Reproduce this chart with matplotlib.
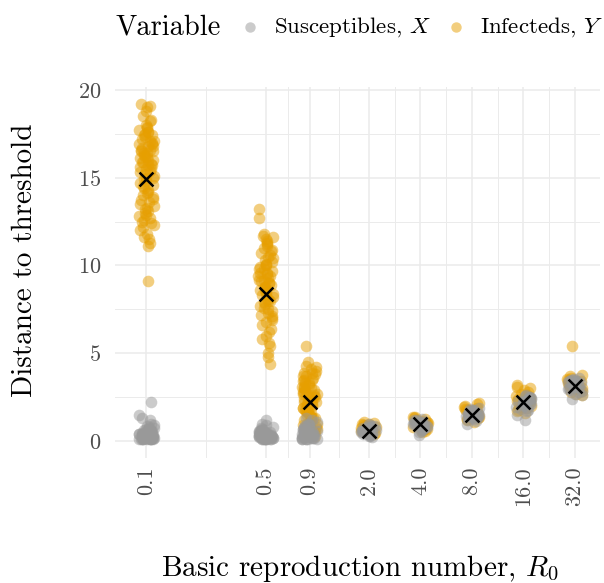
import numpy as np
import matplotlib
matplotlib.use('Agg')
import matplotlib.pyplot as plt
from matplotlib.lines import Line2D
from matplotlib.ticker import FixedLocator, NullFormatter

# 字体：Computer Modern 风格
plt.rcParams['font.family'] = 'serif'
plt.rcParams['font.serif'] = ['cmr10', 'DejaVu Serif']
plt.rcParams['mathtext.fontset'] = 'cm'
plt.rcParams['axes.formatter.use_mathtext'] = True

# 数据
r0_values = [0.1, 0.5, 0.9, 2.0, 4.0, 8.0, 16.0, 32.0]
r0_labels = ['0.1', '0.5', '0.9', '2.0', '4.0', '8.0', '16.0', '32.0']

infecteds = [
    [19.2, 19.1, 19.0, 18.8, 18.5, 18.3, 18.2, 18.0, 17.9, 17.8, 17.7, 17.6, 17.6, 17.5,
     17.4, 17.4, 17.3, 17.2, 17.1, 17.1, 17.0, 16.9, 16.9, 16.8, 16.8, 16.7, 16.6, 16.6,
     16.5, 16.5, 16.4, 16.4, 16.3, 16.2, 16.2, 16.1, 16.0, 16.0, 15.9, 15.9, 15.8, 15.7,
     15.7, 15.6, 15.5, 15.5, 15.4, 15.3, 15.2, 15.1, 15.0, 15.0, 14.9, 14.8, 14.7, 14.6,
     14.5, 14.4, 14.3, 14.2, 14.1, 14.0, 13.9, 13.8, 13.7, 13.6, 13.5, 13.4, 13.3, 13.2,
     13.1, 13.0, 12.9, 12.8, 12.7, 12.6, 12.5, 12.4, 12.3, 12.2, 12.0, 11.8, 11.6, 11.5,
     11.3, 11.1, 9.1],
    [13.2, 12.7, 11.8, 11.7, 11.6, 11.5, 11.4, 11.3, 11.2, 11.1, 11.0, 10.9, 10.8, 10.7,
     10.6, 10.5, 10.4, 10.3, 10.2, 10.1, 10.0, 10.0, 9.9, 9.8, 9.8, 9.7, 9.6, 9.6, 9.5,
     9.4, 9.4, 9.3, 9.2, 9.2, 9.1, 9.0, 9.0, 8.9, 8.8, 8.8, 8.7, 8.6, 8.6, 8.5, 8.4,
     8.4, 8.3, 8.2, 8.1, 8.0, 8.0, 7.9, 7.8, 7.7, 7.6, 7.5, 7.4, 7.3, 7.2, 7.1, 7.0,
     6.9, 6.8, 6.6, 6.4, 6.2, 6.0, 5.8, 5.6, 5.4, 5.0, 4.8, 4.4],
    [5.4, 4.5, 4.3, 4.2, 4.1, 4.0, 3.9, 3.9, 3.8, 3.7, 3.7, 3.6, 3.5, 3.5, 3.4, 3.3,
     3.3, 3.2, 3.1, 3.1, 3.0, 3.0, 2.9, 2.9, 2.8, 2.8, 2.7, 2.7, 2.6, 2.6, 2.5, 2.5,
     2.4, 2.4, 2.3, 2.3, 2.2, 2.2, 2.1, 2.1, 2.0, 2.0, 1.9, 1.9, 1.8, 1.8, 1.7, 1.7,
     1.6, 1.6, 1.5, 1.5, 1.4, 1.4, 1.3, 1.3, 1.2, 1.2, 1.1, 1.0, 1.0, 0.9, 0.8, 0.7,
     0.6, 0.5, 0.4, 0.3],
    [1.1, 1.05, 1.0, 0.95, 0.9, 0.85, 0.8, 0.8, 0.75, 0.7, 0.7, 0.65, 0.65, 0.6, 0.6,
     0.55, 0.55, 0.5, 0.5, 0.45, 0.4],
    [1.4, 1.35, 1.3, 1.25, 1.2, 1.2, 1.15, 1.1, 1.1, 1.05, 1.0, 1.0, 0.95, 0.95, 0.9,
     0.9, 0.85, 0.85, 0.8, 0.75, 0.7, 0.65, 0.6, 0.5],
    [2.15, 2.1, 2.0, 1.95, 1.9, 1.85, 1.8, 1.75, 1.7, 1.7, 1.65, 1.6, 1.6, 1.55, 1.55,
     1.5, 1.5, 1.45, 1.4, 1.4, 1.35, 1.3, 1.25, 1.2, 1.1],
    [3.2, 3.1, 3.0, 2.9, 2.8, 2.7, 2.6, 2.55, 2.5, 2.45, 2.4, 2.35, 2.3, 2.25, 2.2, 2.2,
     2.15, 2.1, 2.05, 2.0, 1.95, 1.9, 1.8, 1.7, 1.6],
    [5.4, 3.75, 3.7, 3.6, 3.55, 3.5, 3.45, 3.4, 3.35, 3.3, 3.3, 3.25, 3.2, 3.2, 3.15,
     3.1, 3.05, 3.0, 2.95, 2.9, 2.85, 2.8, 2.7, 2.6],
]

susceptibles = [
    [2.2, 1.5, 1.3, 1.2, 1.0, 0.9, 0.85, 0.8, 0.75, 0.7, 0.7, 0.65, 0.6, 0.6, 0.55,
     0.55, 0.5, 0.5, 0.5, 0.45, 0.45, 0.4, 0.4, 0.4, 0.38, 0.35, 0.35, 0.32, 0.3, 0.3,
     0.3, 0.28, 0.28, 0.25, 0.25, 0.25, 0.22, 0.22, 0.2, 0.2, 0.2, 0.2, 0.18, 0.18,
     0.18, 0.15, 0.15, 0.15, 0.15, 0.12, 0.12, 0.12, 0.1, 0.1, 0.1, 0.1],
    [1.2, 1.0, 0.9, 0.8, 0.75, 0.7, 0.65, 0.6, 0.6, 0.55, 0.55, 0.5, 0.5, 0.45, 0.45,
     0.4, 0.4, 0.4, 0.38, 0.35, 0.35, 0.32, 0.3, 0.3, 0.3, 0.28, 0.25, 0.25, 0.25,
     0.22, 0.22, 0.2, 0.2, 0.2, 0.18, 0.18, 0.15, 0.15, 0.15, 0.12, 0.12, 0.1, 0.1,
     0.1, 0.1],
    [1.3, 1.2, 1.1, 1.0, 0.95, 0.9, 0.85, 0.8, 0.75, 0.7, 0.7, 0.65, 0.6, 0.6, 0.55,
     0.55, 0.5, 0.5, 0.45, 0.45, 0.4, 0.4, 0.35, 0.35, 0.3, 0.3, 0.3, 0.25, 0.25, 0.22,
     0.2, 0.2, 0.2, 0.18, 0.15, 0.15, 0.12, 0.12, 0.1, 0.1],
    [0.95, 0.9, 0.85, 0.85, 0.8, 0.8, 0.75, 0.75, 0.7, 0.7, 0.65, 0.65, 0.6, 0.6, 0.6,
     0.55, 0.55, 0.5, 0.5, 0.5, 0.45, 0.45, 0.4, 0.4, 0.35, 0.35, 0.3, 0.3, 0.25],
    [1.25, 1.2, 1.2, 1.15, 1.1, 1.1, 1.05, 1.05, 1.0, 1.0, 1.0, 0.95, 0.95, 0.9, 0.9,
     0.85, 0.85, 0.8, 0.8, 0.75, 0.7, 0.65, 0.6, 0.5, 0.35],
    [1.9, 1.85, 1.8, 1.75, 1.7, 1.7, 1.65, 1.65, 1.6, 1.6, 1.55, 1.55, 1.5, 1.5, 1.5,
     1.45, 1.45, 1.4, 1.4, 1.35, 1.3, 1.25, 1.2, 1.15, 1.0],
    [2.6, 2.55, 2.5, 2.5, 2.45, 2.4, 2.4, 2.35, 2.3, 2.3, 2.25, 2.2, 2.2, 2.15, 2.1,
     2.1, 2.05, 2.0, 1.95, 1.9, 1.85, 1.8, 1.7, 1.5, 1.2],
    [3.6, 3.55, 3.5, 3.5, 3.45, 3.4, 3.4, 3.35, 3.3, 3.3, 3.25, 3.2, 3.2, 3.15, 3.1,
     3.1, 3.05, 3.0, 2.95, 2.9, 2.85, 2.8, 2.7, 2.6, 2.4],
]

# 感染者均值（× 标记）
infected_means = [14.95, 8.4, 2.2, 0.6, 0.95, 1.5, 2.2, 3.15]

orange = '#E69F00'
grey = '#999999'

fig = plt.figure(figsize=(6.04, 5.83), dpi=100)
ax = fig.add_axes([115 / 604, 125 / 583, 485 / 604, 371 / 583])

def jitter_x(x0, n, seed):
    # 确定性抖动（对数坐标下，哈希序列打乱）
    i = np.arange(n)
    k = (np.sin(i * 12.9898 + seed * 78.233) * 43758.5453) % 1.0
    return x0 * 2.0 ** ((k - 0.5) * 2 * 0.15)

for g, x0 in enumerate(r0_values):
    yi = infecteds[g]
    ax.scatter(jitter_x(x0, len(yi), g + 1), yi, s=70, color=orange, alpha=0.5,
               linewidths=0, zorder=2)
for g, x0 in enumerate(r0_values):
    ys = susceptibles[g]
    ax.scatter(jitter_x(x0, len(ys), g + 11), ys, s=70, color=grey, alpha=0.5,
               linewidths=0, zorder=3)

ax.scatter(r0_values, infected_means, marker='x', s=100, color='black',
           linewidths=1.8, zorder=4)

ax.set_xscale('log', base=2)
ax.set_xlim(2 ** -3.93, 2 ** 5.49)
ax.set_ylim(-0.96, 20.16)

ax.xaxis.set_major_locator(FixedLocator(r0_values))
ax.set_xticklabels(r0_labels, rotation=90)
minor_x = [np.sqrt(a * b) for a, b in zip(r0_values[:-1], r0_values[1:])]
ax.xaxis.set_minor_locator(FixedLocator(minor_x))
ax.xaxis.set_minor_formatter(NullFormatter())
ax.set_yticks([0, 5, 10, 15, 20])
ax.set_yticks([2.5, 7.5, 12.5, 17.5], minor=True)

ax.grid(which='major', color='#EBEBEB', linewidth=1.1, zorder=0)
ax.grid(which='minor', color='#EBEBEB', linewidth=0.7, zorder=0)
ax.set_axisbelow(True)
for s in ax.spines.values():
    s.set_visible(False)
ax.tick_params(which='both', length=0, labelsize=16, labelcolor='#4D4D4D')
ax.tick_params(axis='x', pad=6)
ax.tick_params(axis='y', pad=10)

ax.set_xlabel('Basic reproduction number, $R_0$', fontsize=21, va='center')
ax.xaxis.set_label_coords(0.505, (458 - 568) / 371)
ax.set_ylabel('Distance to threshold', fontsize=21, va='center')
ax.yaxis.set_label_coords((25 - 115) / 485, (458 - 260) / 371)

# 图例（手动排布）
fig.text(116 / 604, 1 - 27 / 583, 'Variable', fontsize=20.5, va='center', ha='left')
legend_items = [(250, grey, 'Susceptibles, $X$'), (456, orange, 'Infecteds, $Y$')]
for px, col, lab in legend_items:
    fig.add_artist(Line2D([px / 604], [1 - 27 / 583], transform=fig.transFigure,
                          marker='o', linestyle='', color=col, alpha=0.5,
                          markersize=7.5, markeredgewidth=0))
    fig.text((px + 24) / 604, 1 - 27 / 583, lab, fontsize=16.5, va='center', ha='left')

plt.savefig('out.png', dpi=100)
